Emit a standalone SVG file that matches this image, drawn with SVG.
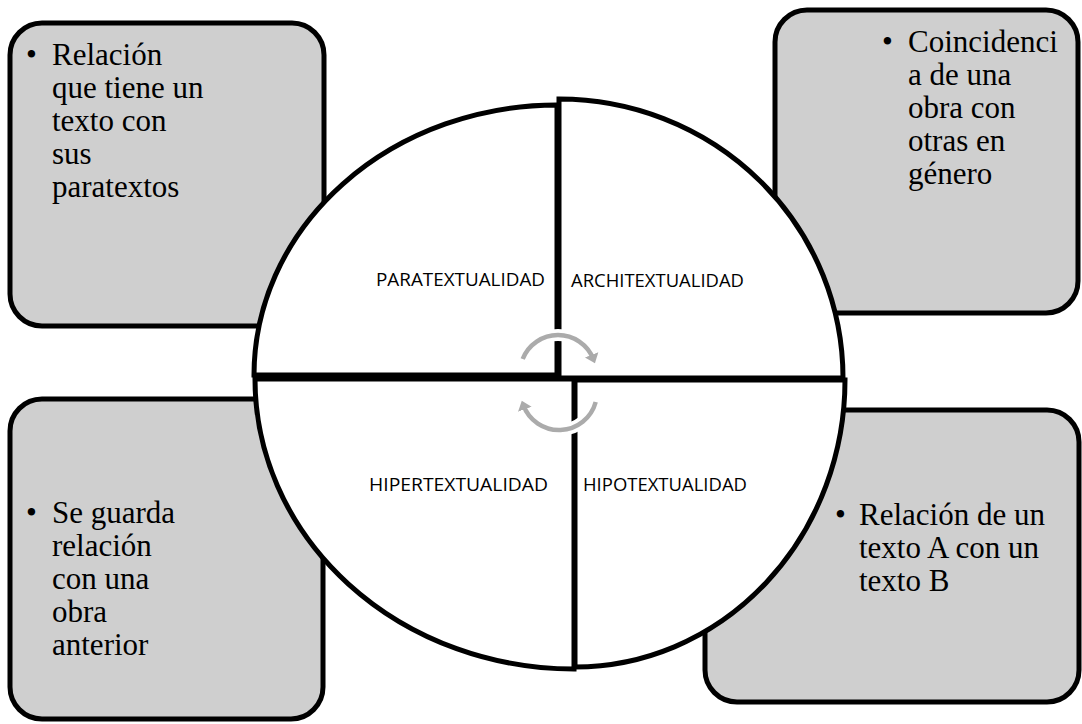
<svg xmlns="http://www.w3.org/2000/svg" width="1082" height="724" viewBox="0 0 1082 724">
<style>
.box{fill:#CFCFCF;stroke:#000;stroke-width:5}
.q{fill:#FFFFFF;stroke:#000;stroke-width:5;stroke-linejoin:miter}
.t{font-family:"Liberation Serif","Times New Roman",serif;font-size:31px;fill:#000}
.lbl{font-family:"Open Sans","Noto Sans",sans-serif;font-size:17.5px;fill:#000}
.arcw{fill:none;stroke:#FFFFFF;stroke-width:12}
.arcg{fill:none;stroke:#ABABAB;stroke-width:4.5}
</style>
<defs>
<marker id="ah" markerWidth="4" markerHeight="4" refX="1" refY="2" orient="auto" markerUnits="strokeWidth">
<path d="M0,0.4 L2,2 L0,3.6 Z" fill="#ABABAB"/>
</marker>
</defs>
<rect width="1082" height="724" fill="#FFFFFF"/>
<g id="box-paratextualidad">
<rect class="box" x="10" y="23" width="314" height="303" rx="32"/>
<text class="t" x="26" y="65">•</text>
<text class="t" x="52" y="65">Relación</text>
<text class="t" x="52" y="98">que tiene un</text>
<text class="t" x="52" y="131">texto con</text>
<text class="t" x="52" y="164">sus</text>
<text class="t" x="52" y="197">paratextos</text>
</g>
<g id="box-architextualidad">
<rect class="box" x="775" y="10" width="303" height="303" rx="32"/>
<text class="t" x="882" y="52">•</text>
<text class="t" x="908" y="52">Coincidenci</text>
<text class="t" x="908" y="85">a de una</text>
<text class="t" x="908" y="118">obra con</text>
<text class="t" x="908" y="151">otras en</text>
<text class="t" x="908" y="184">género</text>
</g>
<g id="box-hipertextualidad">
<rect class="box" x="10" y="399" width="313" height="320" rx="32"/>
<text class="t" x="26" y="523">•</text>
<text class="t" x="52" y="523">Se guarda</text>
<text class="t" x="52" y="556">relación</text>
<text class="t" x="52" y="589">con una</text>
<text class="t" x="52" y="622">obra</text>
<text class="t" x="52" y="655">anterior</text>
</g>
<g id="box-hipotextualidad">
<rect class="box" x="705" y="410" width="374" height="292" rx="32"/>
<text class="t" x="835" y="525">•</text>
<text class="t" x="859" y="525">Relación de un</text>
<text class="t" x="859" y="558">texto A con un</text>
<text class="t" x="859" y="591">texto B</text>
</g>
<g id="q-paratextualidad">
<path class="q" d="M557,375 L254,375 A303,270 0 0 1 557,105 Z"/>
<text class="lbl" x="376" y="286" textLength="169" lengthAdjust="spacingAndGlyphs">PARATEXTUALIDAD</text>
</g>
<g id="q-architextualidad">
<path class="q" d="M559,378 L559,99 A284,279 0 0 1 843,378 Z"/>
<text class="lbl" x="571" y="287" textLength="173" lengthAdjust="spacingAndGlyphs">ARCHITEXTUALIDAD</text>
</g>
<g id="q-hipertextualidad">
<path class="q" d="M574,379 L574,669 A319,290 0 0 1 255,379 Z"/>
<text class="lbl" x="369" y="491" textLength="179" lengthAdjust="spacingAndGlyphs">HIPERTEXTUALIDAD</text>
</g>
<g id="q-hipotextualidad">
<path class="q" d="M575,380 L845,380 A270,287 0 0 1 575,667 Z"/>
<text class="lbl" x="583" y="491" textLength="164" lengthAdjust="spacingAndGlyphs">HIPOTEXTUALIDAD</text>
</g>
<g id="connectors">
<path class="arcw" d="M522.7,359 A38,38 0 0 1 593.3,359"/>
<path class="arcg" d="M522.7,359 A38,38 0 0 1 593.3,359" marker-end="url(#ah)"/>
<path class="arcw" d="M595.7,402 A38,38 0 0 1 523.3,405"/>
<path class="arcg" d="M595.7,402 A38,38 0 0 1 523.3,405" marker-end="url(#ah)"/>
</g>
</svg>
